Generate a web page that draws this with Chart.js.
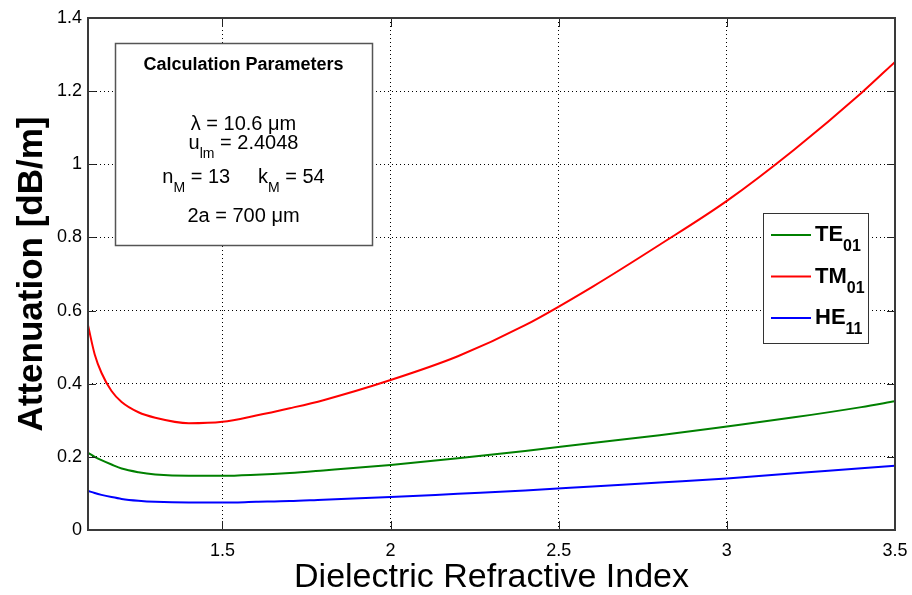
<!DOCTYPE html>
<html lang="en">
<head>
    <meta charset="UTF-8">
    <title>Attenuation vs Dielectric Refractive Index</title>
    <script src="https://cdn.jsdelivr.net/npm/chart.js@4.4.0/dist/chart.umd.min.js"></script>
    <style>
        body { margin: 0; background: #fff; }
        #chart { display: block; }
    </style>
</head>
<body>
<canvas id="chart" width="912" height="595"></canvas>
<script>
    // values
    const xValues = [1.1, 1.12, 1.14, 1.17, 1.2, 1.25, 1.3, 1.4, 1.5, 1.6, 1.7, 1.8, 2.0, 2.2, 2.4, 2.6, 2.8, 3.0, 3.2, 3.4, 3.5];
    const te01 = [0.211, 0.200, 0.191, 0.179, 0.168, 0.158, 0.152, 0.148, 0.148, 0.151, 0.156, 0.163, 0.178, 0.196, 0.216, 0.238, 0.259, 0.283, 0.308, 0.336, 0.352];
    const tm01 = [0.56, 0.48, 0.43, 0.38, 0.35, 0.322, 0.307, 0.292, 0.296, 0.313, 0.333, 0.355, 0.41, 0.475, 0.56, 0.665, 0.78, 0.90, 1.04, 1.195, 1.28];
    const he11 = [0.107, 0.101, 0.096, 0.090, 0.085, 0.080, 0.077, 0.075, 0.075, 0.077, 0.079, 0.083, 0.090, 0.099, 0.108, 0.119, 0.130, 0.141, 0.155, 0.169, 0.176];

    const xTicks = [1.5, 2, 2.5, 3, 3.5];
    const yTicks = [0, 0.2, 0.4, 0.6, 0.8, 1, 1.2, 1.4];
    const yTickLabels = ['0', '0.2', '0.4', '0.6', '0.8', '1', '1.2', '1.4'];

    const seriesNames = [['TE', '01'], ['TM', '01'], ['HE', '11']];
    const seriesColors = ['#008000', '#ff0000', '#0000ff'];

    const FONT = '"Liberation Sans", Arial, Helvetica, sans-serif';

    // text with optional subscript: parts = [[text, sub], ...]
    function richWidth(ctx, parts, size, weight) {
        let w = 0;
        parts.forEach(p => {
            ctx.font = weight + ' ' + size + 'px ' + FONT;
            w += ctx.measureText(p[0]).width;
            if (p[1]) {
                ctx.font = weight + ' ' + Math.round(size * 0.72) + 'px ' + FONT;
                w += ctx.measureText(p[1]).width;
            }
        });
        return w;
    }
    function drawRich(ctx, parts, x, y, size, weight, subDrop) {
        let cx = x;
        ctx.textBaseline = 'alphabetic';
        ctx.textAlign = 'left';
        parts.forEach(p => {
            ctx.font = weight + ' ' + size + 'px ' + FONT;
            ctx.fillText(p[0], cx, y);
            cx += ctx.measureText(p[0]).width;
            if (p[1]) {
                ctx.font = weight + ' ' + Math.round(size * 0.72) + 'px ' + FONT;
                ctx.fillText(p[1], cx, y + subDrop);
                cx += ctx.measureText(p[1]).width;
            }
        });
    }

    const paramLines = [
        {parts: [['Calculation Parameters']], y: 70, size: 18, weight: 'bold'},
        {parts: [['\u03bb = 10.6 \u03bcm']], y: 130, size: 20, weight: 'normal'},
        {parts: [['u', 'lm'], [' = 2.4048']], y: 149, size: 20, weight: 'normal'},
        {parts: [['n', 'M'], [' = 13     k', 'M'], [' = 54']], y: 183, size: 20, weight: 'normal'},
        {parts: [['2a = 700 \u03bcm']], y: 222, size: 20, weight: 'normal'}
    ];

    const frame = {
        id: 'frame',
        beforeDraw(chart) {
            const ctx = chart.ctx;
            ctx.save();
            ctx.fillStyle = '#fff';
            ctx.fillRect(0, 0, chart.width, chart.height);
            ctx.restore();
        },
        afterDraw(chart) {
            const ctx = chart.ctx;
            const a = chart.chartArea;
            const xs = chart.scales.x, ys = chart.scales.y;
            ctx.save();

            // inward tick marks
            ctx.strokeStyle = '#222';
            ctx.lineWidth = 1;
            ctx.beginPath();
            yTicks.forEach(v => {
                const py = Math.round(ys.getPixelForValue(v)) + 0.5;
                ctx.moveTo(a.left, py); ctx.lineTo(a.left + 8, py);
                ctx.moveTo(a.right, py); ctx.lineTo(a.right - 8, py);
            });
            xTicks.forEach(v => {
                const px = Math.round(xs.getPixelForValue(v)) + 0.5;
                ctx.moveTo(px, a.bottom); ctx.lineTo(px, a.bottom - 9);
                ctx.moveTo(px, a.top); ctx.lineTo(px, a.top + 9);
            });
            ctx.stroke();

            // plot frame
            ctx.strokeStyle = '#3a3a3a';
            ctx.lineWidth = 2;
            ctx.strokeRect(a.left, a.top, a.right - a.left, a.bottom - a.top);

            // parameter box
            ctx.fillStyle = '#fff';
            ctx.fillRect(115, 43, 257, 202);
            ctx.strokeStyle = '#555';
            ctx.lineWidth = 1.5;
            ctx.strokeRect(115.5, 43.5, 257, 202);
            ctx.fillStyle = '#000';
            paramLines.forEach(l => {
                const w = richWidth(ctx, l.parts, l.size, l.weight);
                drawRich(ctx, l.parts, 243.5 - w / 2, l.y, l.size, l.weight, 9);
            });

            // legend box
            ctx.fillStyle = '#fff';
            ctx.fillRect(763, 213, 105, 130);
            ctx.strokeStyle = '#333';
            ctx.lineWidth = 1;
            ctx.strokeRect(763.5, 213.5, 105, 130);
            chart.data.datasets.forEach((ds, i) => {
                const ly = 235 + i * 41.5;
                ctx.strokeStyle = ds.borderColor;
                ctx.lineWidth = 2;
                ctx.beginPath();
                ctx.moveTo(771, ly); ctx.lineTo(811, ly);
                ctx.stroke();
                ctx.fillStyle = '#000';
                drawRich(ctx, [seriesNames[i]], 815, ly + 6, 22, 'bold', 10);
            });
            ctx.restore();
        }
    };

    const makeData = ys => xValues.map((x, i) => ({x: x, y: ys[i]}));

    new Chart(document.getElementById('chart'), {
        type: 'line',
        data: {
            datasets: [
                {label: 'TE01', data: makeData(te01), borderColor: seriesColors[0]},
                {label: 'TM01', data: makeData(tm01), borderColor: seriesColors[1]},
                {label: 'HE11', data: makeData(he11), borderColor: seriesColors[2]}
            ]
        },
        options: {
            responsive: false,
            animation: false,
            layout: {padding: {top: 18, right: 17, left: 0, bottom: 0}},
            elements: {
                line: {borderWidth: 2, cubicInterpolationMode: 'monotone', fill: false},
                point: {radius: 0}
            },
            plugins: {
                legend: {display: false},
                tooltip: {enabled: false}
            },
            scales: {
                x: {
                    type: 'linear',
                    min: 1.1,
                    max: 3.5,
                    afterBuildTicks: s => { s.ticks = xTicks.map(v => ({value: v})); },
                    afterFit: s => { s.height = 65; s.paddingLeft = 0; s.paddingRight = 0; },
                    grid: {color: '#000', lineWidth: 1, drawTicks: false},
                    border: {display: false, dash: [1, 3]},
                    ticks: {
                        padding: 10,
                        color: '#000',
                        font: {family: FONT, size: 18},
                        callback: v => String(v)
                    },
                    title: {
                        display: true,
                        text: 'Dielectric Refractive Index',
                        color: '#000',
                        font: {family: FONT, size: 34, lineHeight: 1},
                        padding: {top: 0, bottom: 0}
                    }
                },
                y: {
                    type: 'linear',
                    min: 0,
                    max: 1.4,
                    afterBuildTicks: s => { s.ticks = yTicks.map(v => ({value: v})); },
                    afterFit: s => { s.width = 88; s.paddingTop = 0; s.paddingBottom = 0; },
                    grid: {color: '#000', lineWidth: 1, drawTicks: false},
                    border: {display: false, dash: [1, 3]},
                    ticks: {
                        padding: 6,
                        color: '#000',
                        font: {family: FONT, size: 18},
                        callback: (v, i) => yTickLabels[i]
                    },
                    title: {
                        display: true,
                        text: 'Attenuation [dB/m]',
                        color: '#000',
                        font: {family: FONT, size: 35, weight: 'bold', lineHeight: 1},
                        padding: {top: 15, bottom: 0}
                    }
                }
            }
        },
        plugins: [frame]
    });
</script>
</body>
</html>
